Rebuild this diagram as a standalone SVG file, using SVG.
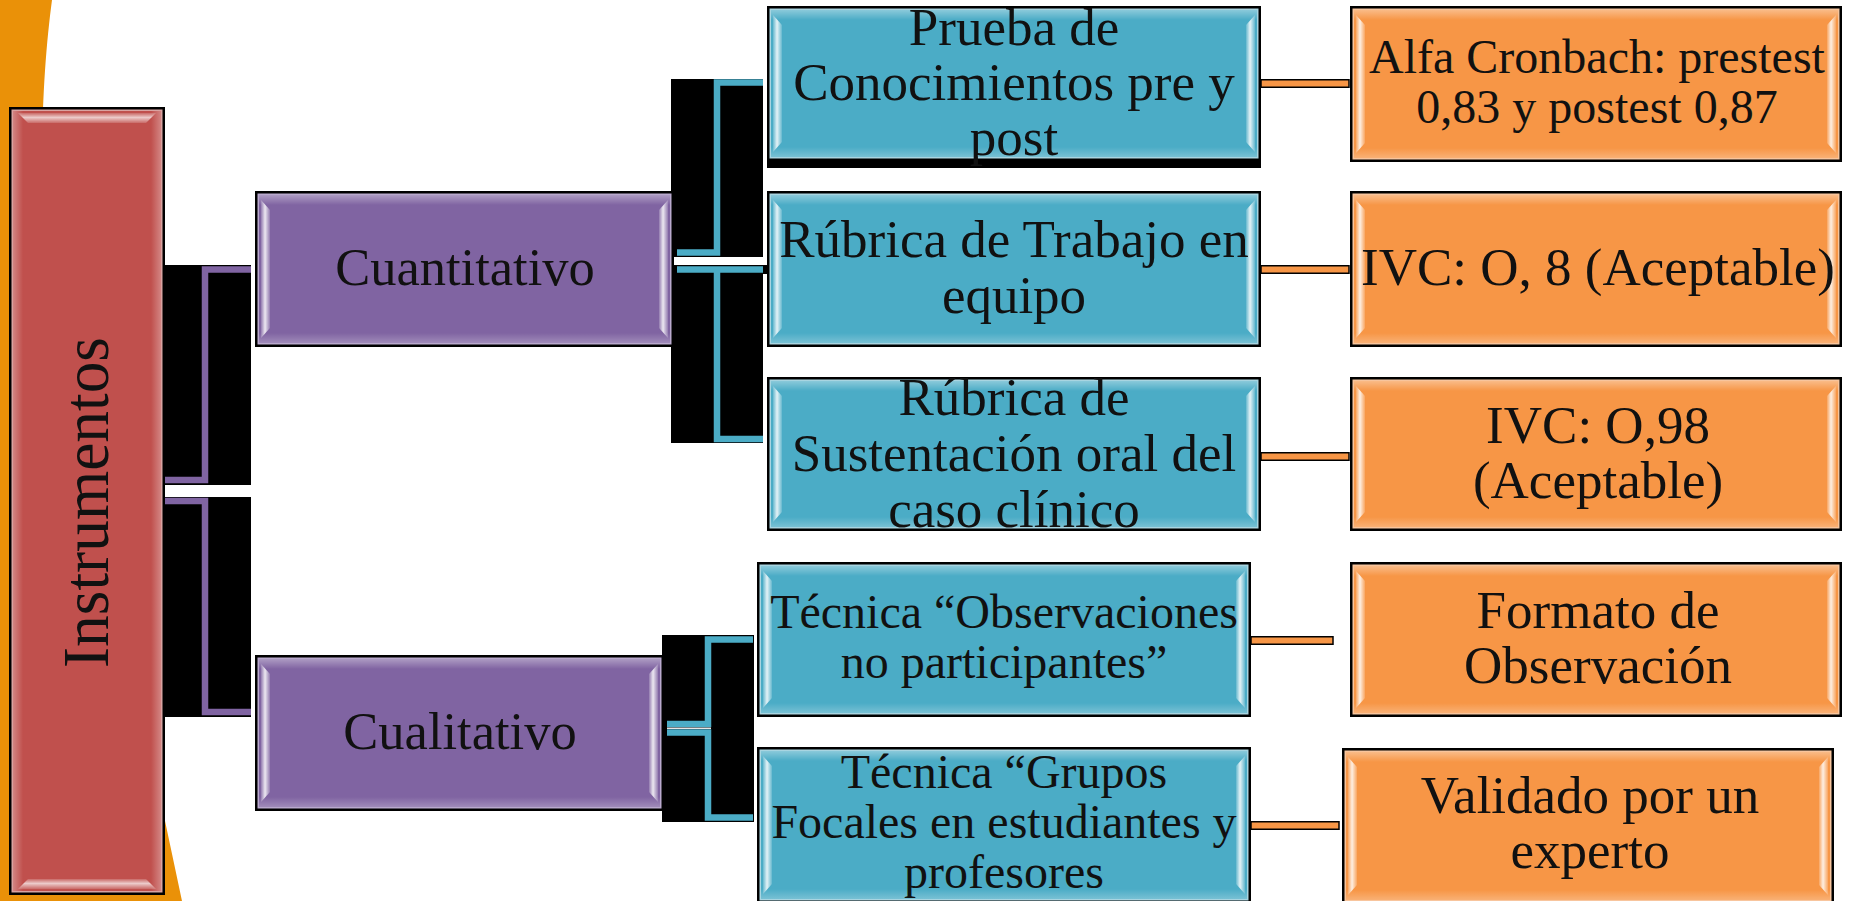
<svg xmlns="http://www.w3.org/2000/svg" width="1854" height="901" viewBox="0 0 1854 901">
<style>
.t{font-family:"Liberation Serif","Times New Roman",serif;fill:#111;text-anchor:middle}
.f53{font-size:53px}.f52{font-size:52.5px}.f48{font-size:48px}
.bk{fill:#000}
.blue{fill:#4BACC6}.eBlue{fill:#A9D5E1}
.purple{fill:#8064A2}.ePurple{fill:#B9A9CD}
.orange{fill:#F79646}.eOrange{fill:#F8C59D}
.red{fill:#C0504D}.eRed{fill:#D9A3A1}
.top{fill:url(#gTop)}.bot{fill:url(#gBot)}.strip{fill:url(#gStrip)}.stripV{fill:url(#gStripV)}
.lnP{fill:none;stroke:#8064A2;stroke-width:6.5}
.lnB{fill:none;stroke:#4BACC6;stroke-width:6.5}
.lnO{fill:#F79646;stroke:#000;stroke-width:1.5}
</style>
<defs>
<linearGradient id="gTop" x1="0" y1="0" x2="0" y2="1"><stop offset="0" stop-color="#fff" stop-opacity="0.35"/><stop offset="1" stop-color="#fff" stop-opacity="0"/></linearGradient>
<linearGradient id="gBot" x1="0" y1="0" x2="0" y2="1"><stop offset="0" stop-color="#fff" stop-opacity="0"/><stop offset="1" stop-color="#fff" stop-opacity="0.25"/></linearGradient>
<linearGradient id="gStrip" x1="0" y1="0" x2="1" y2="0"><stop offset="0" stop-color="#fff" stop-opacity="0.15"/><stop offset="0.45" stop-color="#fff" stop-opacity="0.85"/><stop offset="1" stop-color="#fff" stop-opacity="0.15"/></linearGradient>
<linearGradient id="gStripV" x1="0" y1="0" x2="0" y2="1"><stop offset="0" stop-color="#fff" stop-opacity="0.15"/><stop offset="0.45" stop-color="#fff" stop-opacity="0.7"/><stop offset="1" stop-color="#fff" stop-opacity="0.15"/></linearGradient>
<linearGradient id="gL" x1="0" y1="0" x2="1" y2="0"><stop offset="0" stop-color="#fff" stop-opacity="0.3"/><stop offset="1" stop-color="#fff" stop-opacity="0"/></linearGradient>
<linearGradient id="gR" x1="0" y1="0" x2="1" y2="0"><stop offset="0" stop-color="#fff" stop-opacity="0"/><stop offset="1" stop-color="#fff" stop-opacity="0.3"/></linearGradient>
</defs>
<rect width="1854" height="901" fill="#fff"/>
<path id="bg-orange" d="M0,0 H52 C44,60 38,150 46,260 L182,901 H0 Z" fill="#EA9108"/>

<g id="connectors">
<rect class="bk" x="165" y="265" width="86" height="220"/>
<rect class="bk" x="165" y="497" width="86" height="220"/>
<polyline class="lnP" points="165,480 205,480 205,269.5 251,269.5"/>
<polyline class="lnP" points="165,501 205,501 205,712 251,712"/>
<rect class="bk" x="671" y="79" width="92" height="178"/>
<rect class="bk" x="671" y="265" width="92" height="178"/>
<rect class="bk" x="761" y="265" width="6" height="9"/>
<polyline class="lnB" points="677,252.5 717,252.5 717,82.5 763,82.5"/>
<polyline class="lnB" points="677,269.5 763,269.5"/>
<polyline class="lnB" points="717,269.5 717,439 763,439"/>
<rect class="bk" x="662" y="635" width="92" height="187"/>
<polyline class="lnB" points="667,724 708,724 708,639.5 753,639.5"/>
<polyline class="lnB" points="667,732.5 708,732.5 708,817.5 753,817.5"/>
<rect x="667" y="727.6" width="44" height="1.3" fill="#fff"/>
<rect class="lnO" x="1261" y="79.75" width="88" height="7.5"/>
<rect class="lnO" x="1261" y="265.75" width="88" height="7.5"/>
<rect class="lnO" x="1261" y="452.75" width="88" height="7.5"/>
<rect class="lnO" x="1251" y="636.75" width="82" height="7.5"/>
<rect class="lnO" x="1251" y="821.75" width="88" height="7.5"/>
</g>

<g id="node-instrumentos">
<rect class="bk" x="9" y="107" width="156" height="788"/>
<rect class="eRed" x="11.5" y="109.5" width="151" height="783"/>
<rect class="red" x="13" y="111" width="148" height="780"/>
<rect x="13" y="111" width="10" height="780" fill="url(#gL)"/>
<rect x="151" y="111" width="10" height="780" fill="url(#gR)"/>
<polygon class="stripV" points="18,113 156,113 146,123 28,123"/>
<polygon class="stripV" points="28,879 146,879 156,889 18,889"/>
<text class="t" transform="translate(108,502.5) rotate(-90)" font-size="66" textLength="331" lengthAdjust="spacingAndGlyphs">Instrumentos</text>
</g>

<g id="node-cuantitativo">
<rect class="bk" x="255" y="191" width="419" height="156"/>
<rect class="ePurple" x="257.5" y="193.5" width="414" height="151"/>
<rect class="purple" x="259" y="195" width="411" height="148"/>
<rect class="top" x="259" y="195" width="411" height="10"/>
<rect class="bot" x="259" y="333" width="411" height="10"/>
<polygon class="strip" points="261,200 270,210 270,328 261,338"/>
<polygon class="strip" points="668,200 659,210 659,328 668,338"/>
<text class="t f52" x="465" y="285">Cuantitativo</text>
</g>

<g id="node-cualitativo">
<rect class="bk" x="255" y="655" width="409" height="156"/>
<rect class="ePurple" x="257.5" y="657.5" width="404" height="151"/>
<rect class="purple" x="259" y="659" width="401" height="148"/>
<rect class="top" x="259" y="659" width="401" height="10"/>
<rect class="bot" x="259" y="797" width="401" height="10"/>
<polygon class="strip" points="261,664 270,674 270,792 261,802"/>
<polygon class="strip" points="658,664 649,674 649,792 658,802"/>
<text class="t f52" x="460" y="749">Cualitativo</text>
</g>

<g id="node-prueba">
<rect class="bk" x="767" y="6" width="494" height="162"/>
<rect class="eBlue" x="769.5" y="8.5" width="489" height="150"/>
<rect class="blue" x="771" y="10" width="486" height="147"/>
<rect class="top" x="771" y="10" width="486" height="10"/>
<rect class="bot" x="771" y="147" width="486" height="10"/>
<polygon class="strip" points="773,15 782,25 782,142 773,152"/>
<polygon class="strip" points="1255,15 1246,25 1246,142 1255,152"/>
<text class="t f53"><tspan x="1014" y="45">Prueba de</tspan><tspan x="1014" y="100">Conocimientos pre y</tspan><tspan x="1014" y="155">post</tspan></text>
</g>

<g id="node-rubrica-trabajo">
<rect class="bk" x="767" y="191" width="494" height="156"/>
<rect class="eBlue" x="769.5" y="193.5" width="489" height="151"/>
<rect class="blue" x="771" y="195" width="486" height="148"/>
<rect class="top" x="771" y="195" width="486" height="10"/>
<rect class="bot" x="771" y="333" width="486" height="10"/>
<polygon class="strip" points="773,200 782,210 782,328 773,338"/>
<polygon class="strip" points="1255,200 1246,210 1246,328 1255,338"/>
<text class="t f53"><tspan x="1014" y="257">Rúbrica de Trabajo en</tspan><tspan x="1014" y="313">equipo</tspan></text>
</g>

<g id="node-rubrica-sustentacion">
<rect class="bk" x="767" y="377" width="494" height="154"/>
<rect class="eBlue" x="769.5" y="379.5" width="489" height="149"/>
<rect class="blue" x="771" y="381" width="486" height="146"/>
<rect class="top" x="771" y="381" width="486" height="10"/>
<rect class="bot" x="771" y="517" width="486" height="10"/>
<polygon class="strip" points="773,386 782,396 782,512 773,522"/>
<polygon class="strip" points="1255,386 1246,396 1246,512 1255,522"/>
<text class="t f53"><tspan x="1014" y="415">Rúbrica de</tspan><tspan x="1014" y="471">Sustentación oral del</tspan><tspan x="1014" y="527">caso clínico</tspan></text>
</g>

<g id="node-observaciones">
<rect class="bk" x="757" y="562" width="494" height="155"/>
<rect class="eBlue" x="759.5" y="564.5" width="489" height="150"/>
<rect class="blue" x="761" y="566" width="486" height="147"/>
<rect class="top" x="761" y="566" width="486" height="10"/>
<rect class="bot" x="761" y="703" width="486" height="10"/>
<polygon class="strip" points="763,571 772,581 772,698 763,708"/>
<polygon class="strip" points="1245,571 1236,581 1236,698 1245,708"/>
<text class="t f48"><tspan x="1004" y="628">Técnica “Observaciones</tspan><tspan x="1004" y="678">no participantes”</tspan></text>
</g>

<g id="node-grupos">
<rect class="bk" x="757" y="747" width="494" height="156"/>
<rect class="eBlue" x="759.5" y="749.5" width="489" height="151"/>
<rect class="blue" x="761" y="751" width="486" height="148"/>
<rect class="top" x="761" y="751" width="486" height="10"/>
<rect class="bot" x="761" y="889" width="486" height="10"/>
<polygon class="strip" points="763,756 772,766 772,884 763,894"/>
<polygon class="strip" points="1245,756 1236,766 1236,884 1245,894"/>
<text class="t f48"><tspan x="1004" y="788">Técnica “Grupos</tspan><tspan x="1004" y="838">Focales en estudiantes y</tspan><tspan x="1004" y="888">profesores</tspan></text>
</g>

<g id="node-alfa">
<rect class="bk" x="1350" y="6" width="492" height="156"/>
<rect class="eOrange" x="1352.5" y="8.5" width="487" height="151"/>
<rect class="orange" x="1354" y="10" width="484" height="148"/>
<rect class="top" x="1354" y="10" width="484" height="10"/>
<rect class="bot" x="1354" y="148" width="484" height="10"/>
<polygon class="strip" points="1356,15 1365,25 1365,143 1356,153"/>
<polygon class="strip" points="1836,15 1827,25 1827,143 1836,153"/>
<text class="t f48"><tspan x="1597" y="73">Alfa Cronbach: prestest</tspan><tspan x="1597" y="123">0,83 y postest 0,87</tspan></text>
</g>

<g id="node-ivc-08">
<rect class="bk" x="1350" y="191" width="492" height="156"/>
<rect class="eOrange" x="1352.5" y="193.5" width="487" height="151"/>
<rect class="orange" x="1354" y="195" width="484" height="148"/>
<rect class="top" x="1354" y="195" width="484" height="10"/>
<rect class="bot" x="1354" y="333" width="484" height="10"/>
<polygon class="strip" points="1356,200 1365,210 1365,328 1356,338"/>
<polygon class="strip" points="1836,200 1827,210 1827,328 1836,338"/>
<text class="t f53" x="1598" y="285">IVC: O, 8 (Aceptable)</text>
</g>

<g id="node-ivc-098">
<rect class="bk" x="1350" y="377" width="492" height="154"/>
<rect class="eOrange" x="1352.5" y="379.5" width="487" height="149"/>
<rect class="orange" x="1354" y="381" width="484" height="146"/>
<rect class="top" x="1354" y="381" width="484" height="10"/>
<rect class="bot" x="1354" y="517" width="484" height="10"/>
<polygon class="strip" points="1356,386 1365,396 1365,512 1356,522"/>
<polygon class="strip" points="1836,386 1827,396 1827,512 1836,522"/>
<text class="t f53"><tspan x="1598" y="443">IVC: O,98</tspan><tspan x="1598" y="498">(Aceptable)</tspan></text>
</g>

<g id="node-formato">
<rect class="bk" x="1350" y="562" width="492" height="155"/>
<rect class="eOrange" x="1352.5" y="564.5" width="487" height="150"/>
<rect class="orange" x="1354" y="566" width="484" height="147"/>
<rect class="top" x="1354" y="566" width="484" height="10"/>
<rect class="bot" x="1354" y="703" width="484" height="10"/>
<polygon class="strip" points="1356,571 1365,581 1365,698 1356,708"/>
<polygon class="strip" points="1836,571 1827,581 1827,698 1836,708"/>
<text class="t f53"><tspan x="1598" y="628">Formato de</tspan><tspan x="1598" y="683">Observación</tspan></text>
</g>

<g id="node-validado">
<rect class="bk" x="1342" y="748" width="492" height="156"/>
<rect class="eOrange" x="1344.5" y="750.5" width="487" height="151"/>
<rect class="orange" x="1346" y="752" width="484" height="148"/>
<rect class="top" x="1346" y="752" width="484" height="10"/>
<rect class="bot" x="1346" y="890" width="484" height="10"/>
<polygon class="strip" points="1348,757 1357,767 1357,885 1348,895"/>
<polygon class="strip" points="1828,757 1819,767 1819,885 1828,895"/>
<text class="t f53"><tspan x="1590" y="813">Validado por un</tspan><tspan x="1590" y="868">experto</tspan></text>
</g>
</svg>
